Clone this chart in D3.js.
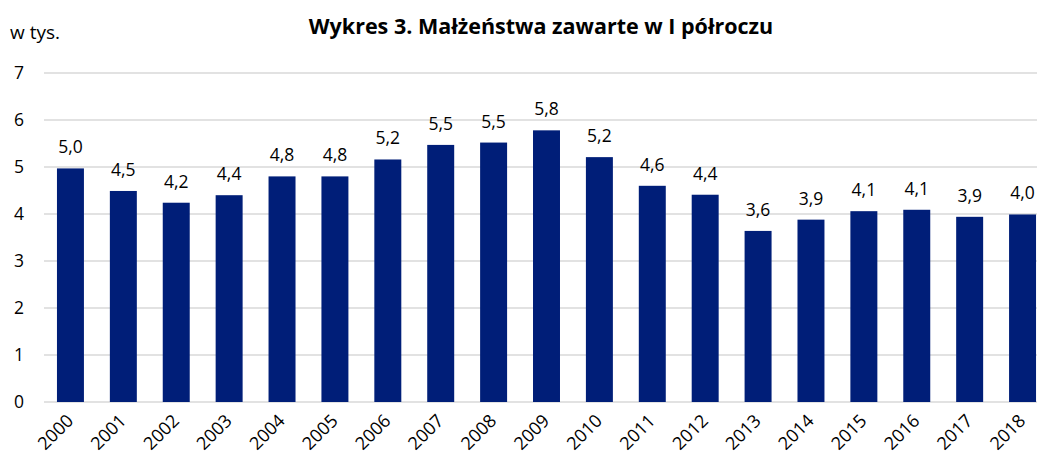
<!DOCTYPE html>
<html><head><meta charset="utf-8">
<script src="https://cdn.jsdelivr.net/npm/d3@7"></script>
<style>
body{margin:0;background:#fff;}
svg{display:block;font-family:"Open Sans","Noto Sans",sans-serif;}
</style></head>
<body><svg id="c" width="1037" height="458"></svg>
<script>
const years = ["2000","2001","2002","2003","2004","2005","2006","2007","2008","2009","2010","2011","2012","2013","2014","2015","2016","2017","2018"];
const values = [4.97,4.49,4.24,4.40,4.80,4.80,5.16,5.47,5.52,5.78,5.21,4.60,4.41,3.64,3.88,4.06,4.09,3.94,3.99];
const yTicks = [0,1,2,3,4,5,6,7];
const title = "Wykres 3. Małżeństwa zawarte w I półroczu";
const unit = "w tys.";

const svg = d3.select("#c");
const x = d3.scaleBand().domain(years).range([44, 1049]).paddingInner(0.49).paddingOuter(0.245);
const y = d3.scaleLinear().domain([0,7]).range([402, 73]);
const fmt = v => d3.format(".1f")(v).replace(".", ",");

svg.append("text").attr("x",541).attr("y",34).attr("text-anchor","middle")
  .attr("font-size",21.5).attr("font-weight","bold").attr("fill","#000").text(title);
svg.append("text").attr("x",10).attr("y",39).attr("font-size",19).attr("fill","#000").text(unit);

svg.append("g").selectAll("line").data(yTicks).join("line")
  .attr("x1",44).attr("x2",1037).attr("y1",d=>y(d)).attr("y2",d=>y(d))
  .attr("stroke","#d9d9d9").attr("stroke-width",1.5);

svg.append("g").selectAll("text").data(yTicks).join("text")
  .attr("x",19).attr("y",d=>y(d)+6).attr("text-anchor","middle")
  .attr("font-size",17.5).attr("fill","#000").text(d=>d);

svg.append("g").selectAll("rect").data(values).join("rect")
  .attr("x",(d,i)=>x(years[i])).attr("width",x.bandwidth())
  .attr("y",d=>y(d)).attr("height",d=>y(0)-y(d)).attr("fill","#001e78");

svg.append("g").selectAll("text").data(values).join("text")
  .attr("x",(d,i)=>x(years[i])+x.bandwidth()/2).attr("y",d=>y(d)-15)
  .attr("text-anchor","middle").attr("font-size",17.5).attr("fill","#000").text(fmt);

svg.append("g").selectAll("text").data(years).join("text")
  .attr("transform",d=>`translate(${x(d)+x.bandwidth()/2+4},${422}) rotate(-45)`)
  .attr("text-anchor","end").attr("font-size",18).attr("fill","#000").text(d=>d);
</script></body></html>
